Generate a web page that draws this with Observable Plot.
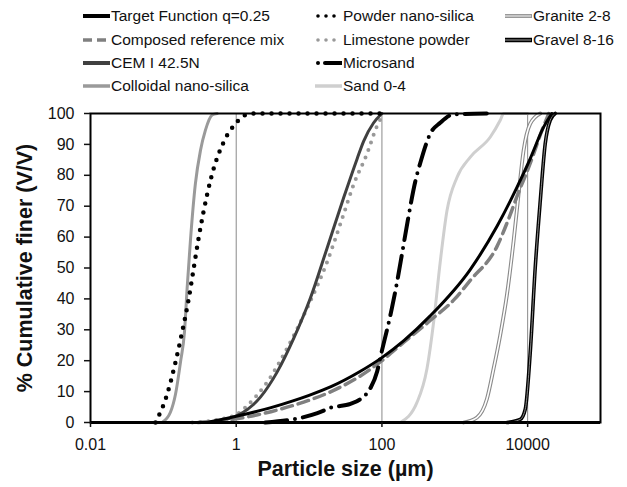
<!DOCTYPE html>
<html>
<head>
<meta charset="utf-8">
<script src="https://cdn.jsdelivr.net/npm/d3@7"></script>
<script src="https://cdn.jsdelivr.net/npm/@observablehq/plot@0.6"></script>
<style>
  html, body { margin: 0; padding: 0; background: #fff; }
  body { width: 627px; height: 487px; overflow: hidden; font-family: "Liberation Sans", Arial, sans-serif; }
  #legend { position: relative; width: 627px; height: 97px; }
  .item { position: absolute; display: flex; align-items: center; height: 20px; font-size: 15.5px; color: #111; white-space: nowrap; }
  .item svg { display: block; margin-right: 1px; }
</style>
</head>
<body>
<div id="legend"></div>
<div id="chart"></div>
<script>
// ---------- data ----------
const seriesNames = ["Target Function q=0.25", "Composed reference mix", "CEM I 42.5N", "Colloidal nano-silica",
  "Powder nano-silica", "Limestone powder", "Microsand", "Sand 0-4", "Granite 2-8", "Gravel 8-16"];

const targetSize = [0.4, 1, 3, 6, 10, 20, 50, 100, 200, 460, 1630, 3800, 7100, 10900, 16500, 21500];
const targetPct  = [0, 2, 4.8, 7, 8.8, 11.6, 16.5, 21, 26.5, 34.5, 49.5, 63.5, 76, 85.5, 95.5, 100];

const composedSize = [0.3, 1, 3, 6, 20, 50, 100, 200, 460, 1000, 1630, 3800, 5500, 7100, 10900, 16000, 19500];
const composedPct  = [0, 1.2, 3.5, 5.5, 10, 15, 20, 26, 33, 40, 46, 57, 66, 73, 84, 95, 100];

const cemSize = [0.3, 0.6, 1.03, 2.15, 3.64, 6.15, 10.4, 17.7, 29.9, 45.6, 56, 77, 100];
const cemPct  = [0, 0.6, 2.2, 8.2, 16.3, 27.2, 40.2, 56.5, 72.8, 85.3, 91, 97, 100];

const colloidalSize = [0.096, 0.125, 0.147, 0.172, 0.195, 0.212, 0.235, 0.275, 0.323, 0.378, 0.467, 0.547];
const colloidalPct  = [0, 3.3, 9.2, 19.6, 29.3, 43.5, 58.7, 77.2, 88, 94.6, 99.5, 100];

const powderSize = [0.078, 0.113, 0.147, 0.181, 0.219, 0.257, 0.3, 0.358, 0.467, 0.674, 0.975, 1.34, 1.8, 100];
const powderPct  = [0, 9.2, 19.6, 29.3, 39, 48.9, 58.7, 68.5, 80.4, 90.8, 96.7, 99.5, 100, 100];

const limestoneSize = [0.25, 0.5, 1.03, 1.41, 2.65, 4.99, 9.4, 17.7, 29.9, 40.9, 62.4, 85.7, 105];
const limestonePct  = [0, 0.7, 2.7, 5.4, 13, 24, 37, 52, 67.5, 77, 87, 96, 99.8];

const microsandSize = [2.5, 5, 13, 20, 37, 50, 69, 86, 95, 137, 160, 190, 225, 287, 336, 461, 631, 955, 3000];
const microsandPct  = [0, 0.7, 3, 4.8, 6, 7.5, 11, 16.5, 21, 37, 45, 55, 65, 78, 84, 93.5, 97, 99.7, 100];

const sandSize = [179, 303, 415, 513, 633, 781, 1071, 1633, 3073, 4207, 4677, 10000];
const sandPct  = [0, 6.5, 17.4, 32.6, 52.2, 68.5, 79.3, 85.9, 92.4, 97.8, 100, 100];

const graniteSize = [1321, 2014, 2760, 3408, 4207, 5195, 6412, 7511, 8797, 10860, 14900];
const granitePct  = [0, 1.6, 7.6, 17.4, 28.3, 41.3, 58.7, 73.9, 88, 96.7, 100];

const gravelSize = [5200, 7925, 9268, 10860, 12700, 14900, 17420, 20400, 23900];
const gravelPct  = [0, 1, 4.3, 22.8, 50, 71.7, 90.2, 97.8, 100];

const xTicks = [0.01, 1, 100, 10000];
const xGrid = [1, 100, 10000];
const yTicks = [0, 10, 20, 30, 40, 50, 60, 70, 80, 90, 100];
const baseline = [0];
const xLabel = "Particle size (µm)";
const yLabel = "% Cumulative finer (V/V)";

// ---------- helpers ----------
const zip = (s, p) => s.map((v, i) => ({size: v, pct: p[i]}));
const L = (s, p, o) => Plot.line(zip(s, p), {x: "size", y: "pct", curve: "monotone-x", strokeLinejoin: "round", ...o});

// ---------- legend ----------
const legendItems = [
  {name: seriesNames[0], x: 83, y: 16, w: 27, kind: "solid", stroke: "#000", sw: 4},
  {name: seriesNames[1], x: 83, y: 40, w: 27, kind: "dash", stroke: "#808080", sw: 3.5, dash: "9 5"},
  {name: seriesNames[2], x: 83, y: 63, w: 27, kind: "solid", stroke: "#404040", sw: 4},
  {name: seriesNames[3], x: 83, y: 86, w: 27, kind: "solid", stroke: "#9a9a9a", sw: 3.5},
  {name: seriesNames[4], x: 315, y: 16, w: 27, kind: "dots", stroke: "#000", sw: 3.6, dash: "0 8"},
  {name: seriesNames[5], x: 315, y: 40, w: 27, kind: "dots", stroke: "#999", sw: 3.6, dash: "0 8"},
  {name: seriesNames[6], x: 315, y: 63, w: 27, kind: "dashdot", stroke: "#000", sw: 4},
  {name: seriesNames[7], x: 315, y: 86, w: 27, kind: "solid", stroke: "#cfcfcf", sw: 3.5},
  {name: seriesNames[8], x: 505, y: 16, w: 27, kind: "double", stroke: "#999", inner: "#e0e0e0", sw: 4},
  {name: seriesNames[9], x: 505, y: 40, w: 27, kind: "double", stroke: "#000", inner: "#777", sw: 4.5}
];
const legend = document.getElementById("legend");
for (const it of legendItems) {
  const div = document.createElement("div");
  div.className = "item";
  div.style.left = it.x + "px";
  div.style.top = (it.y - 10) + "px";
  const ns = "http://www.w3.org/2000/svg";
  const svg = document.createElementNS(ns, "svg");
  svg.setAttribute("width", it.w);
  svg.setAttribute("height", 10);
  const mk = (x1, x2, stroke, sw, dash, cap) => {
    const l = document.createElementNS(ns, "line");
    l.setAttribute("x1", x1); l.setAttribute("x2", x2);
    l.setAttribute("y1", 5); l.setAttribute("y2", 5);
    l.setAttribute("stroke", stroke); l.setAttribute("stroke-width", sw);
    if (dash) l.setAttribute("stroke-dasharray", dash);
    if (cap) l.setAttribute("stroke-linecap", cap);
    svg.appendChild(l);
  };
  if (it.kind === "solid") mk(0, it.w, it.stroke, it.sw);
  else if (it.kind === "dash") mk(0, it.w, it.stroke, it.sw, it.dash);
  else if (it.kind === "dots") mk(3, it.w, it.stroke, it.sw, it.dash, "round");
  else if (it.kind === "dashdot") { mk(3, 3, it.stroke, it.sw, "0 1", "round"); mk(10, it.w, it.stroke, it.sw, null, "round"); }
  else if (it.kind === "double") { mk(0, it.w, it.stroke, it.sw); mk(0, it.w - 1, it.inner, 1.3); }
  div.appendChild(svg);
  const span = document.createElement("span");
  span.textContent = it.name;
  div.appendChild(span);
  legend.appendChild(div);
}

// ---------- chart ----------
const chart = Plot.plot({
  width: 627,
  height: 390,
  marginTop: 16,
  marginBottom: 65,
  marginLeft: 90,
  marginRight: 27,
  style: {fontFamily: "'Liberation Sans', Arial, sans-serif", fontSize: "16px", color: "#111", background: "#fff"},
  x: {type: "log", domain: [0.01, 100000]},
  y: {domain: [0, 100]},
  marks: [
    Plot.ruleX(xGrid, {stroke: "#8a8a8a", strokeWidth: 1}),
    L(sandSize, sandPct, {stroke: "#cfcfcf", strokeWidth: 3}),
    L(graniteSize, granitePct, {stroke: "#8a8a8a", strokeWidth: 3.8}),
    L(graniteSize, granitePct, {stroke: "#fff", strokeWidth: 1.6}),
    L(gravelSize, gravelPct, {stroke: "#000", strokeWidth: 3.6}),
    L(gravelSize, gravelPct, {stroke: "#999", strokeWidth: 0.9}),
    L(colloidalSize, colloidalPct, {stroke: "#9a9a9a", strokeWidth: 3}),
    L(limestoneSize, limestonePct, {stroke: "#999", strokeWidth: 4, strokeDasharray: "0 8", strokeLinecap: "round"}),
    L(cemSize, cemPct, {stroke: "#404040", strokeWidth: 3}),
    L(composedSize, composedPct, {stroke: "#808080", strokeWidth: 3.5, strokeDasharray: "11 6"}),
    L(targetSize, targetPct, {stroke: "#000", strokeWidth: 3}),
    L(powderSize, powderPct, {stroke: "#000", strokeWidth: 4.5, strokeDasharray: "0 9", strokeLinecap: "round"}),
    L(microsandSize, microsandPct, {stroke: "#000", strokeWidth: 4, strokeDasharray: "22 8 0 8", strokeLinecap: "round"}),
    Plot.frame({stroke: "#000", strokeWidth: 2}),
    Plot.ruleY(baseline, {stroke: "#000", strokeWidth: 3}),
    Plot.axisX(xTicks, {tickSize: 5, tickPadding: 11, tickFormat: d => String(d), label: null, fontSize: 16, strokeWidth: 1.5}),
    Plot.axisY(yTicks, {tickSize: 6, tickPadding: 10, label: null, fontSize: 16, strokeWidth: 1.5}),
    Plot.text([xLabel], {frameAnchor: "bottom", dy: 53, fontSize: 21.5, fontWeight: "bold", fill: "#111", textAnchor: "middle"}),
    Plot.text([yLabel], {frameAnchor: "left", rotate: -90, dx: -65, fontSize: 21.5, fontWeight: "bold", fill: "#111", textAnchor: "middle"})
  ]
});
document.getElementById("chart").appendChild(chart);
</script>
</body>
</html>
